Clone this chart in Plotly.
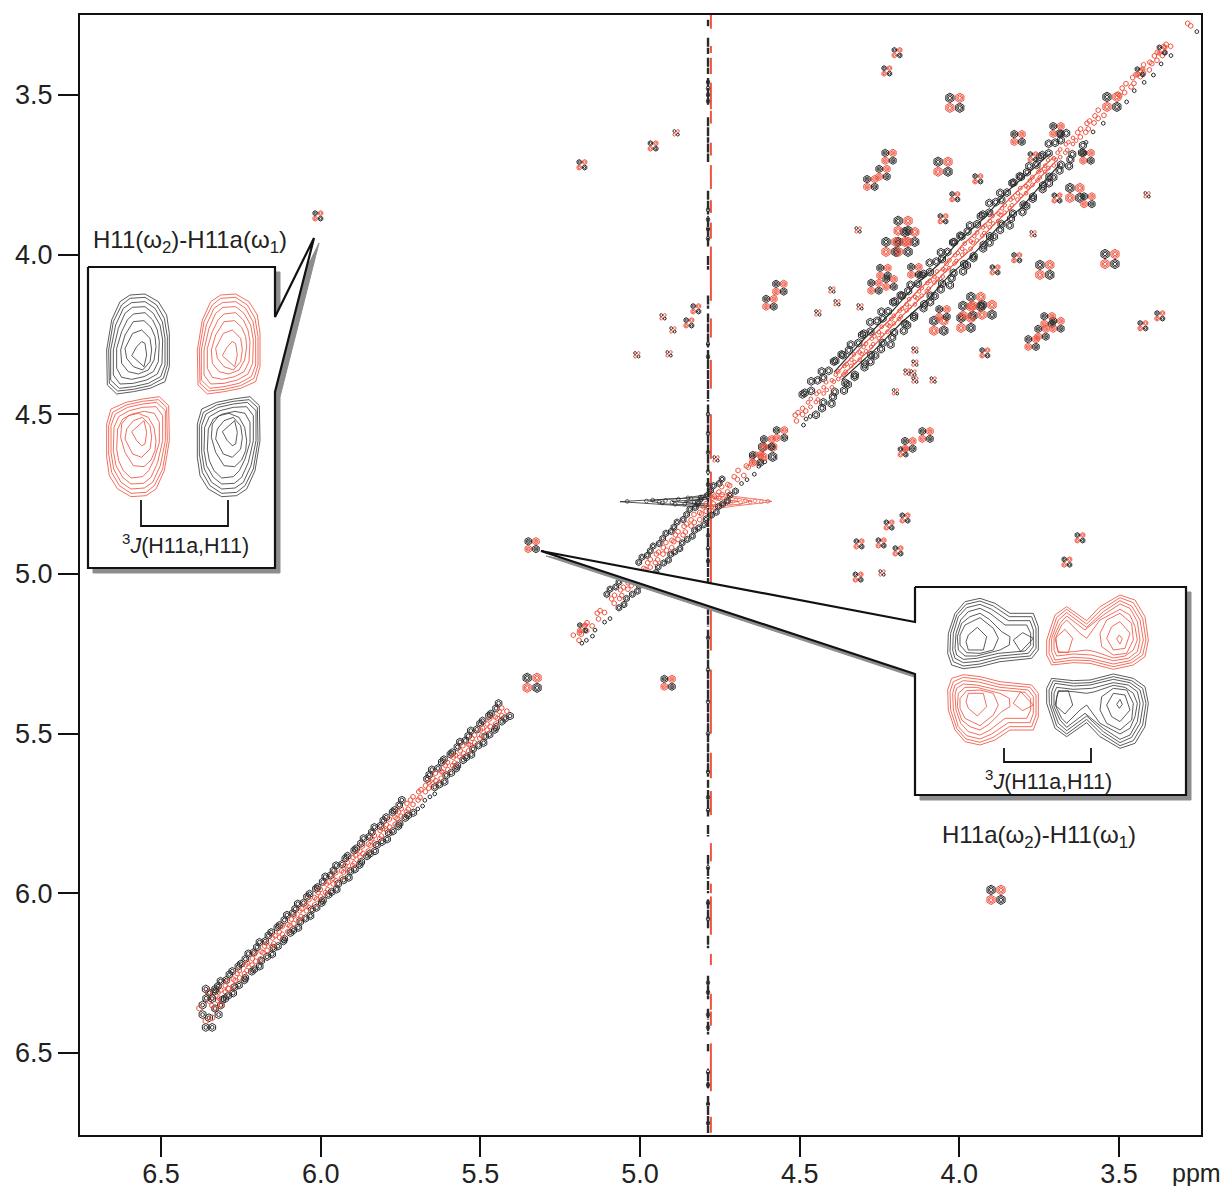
import plotly.graph_objects as go

W, H = 1223, 1186
BLACK = "#2b2b2b"
RED = "#ee5541"
FONT = "Liberation Sans"

# ---- axis data ----
TICK_VALUES = [3.5, 4.0, 4.5, 5.0, 5.5, 6.0, 6.5]
TICK_LABELS = ["3.5", "4.0", "4.5", "5.0", "5.5", "6.0", "6.5"]

# ---- cross-peak quartets (centre in ppm: omega2, omega1) ----
LARGE_X = [4.014, 4.051, 3.732, 3.528, 5.338, 3.885, 3.522, 3.638, 4.176, 4.155, 4.214, 4.176, 3.948, 3.973, 3.913, 4.064, 3.979, 4.600]
LARGE_Y = [3.525, 3.725, 4.048, 4.014, 5.341, 6.005, 3.522, 3.807, 3.910, 3.945, 3.976, 3.976, 4.148, 4.176, 4.173, 4.223, 4.214, 4.618]
MEDIUM_X = [5.338, 4.912, 4.236, 4.139, 4.264, 4.217, 4.051, 3.722, 3.741, 3.694, 3.772, 4.220, 4.239, 4.277, 3.816, 3.694, 3.600, 3.597, 4.562, 4.593, 4.104, 4.158, 4.600, 4.560, 4.635]
MEDIUM_Y = [4.910, 5.341, 4.054, 4.051, 4.101, 4.089, 4.183, 4.205, 4.245, 4.220, 4.277, 3.694, 3.744, 3.776, 3.635, 3.610, 3.694, 3.830, 4.104, 4.151, 4.565, 4.596, 4.590, 4.562, 4.640]
SMALL_X = [4.195, 4.227, 3.942, 4.014, 4.051, 3.820, 3.888, 3.365, 3.425, 3.372, 3.920, 3.434, 5.182, 3.694, 3.769, 4.959, 4.825, 4.847, 4.176, 4.170, 4.220, 4.314, 4.245, 4.192, 4.317, 3.622, 3.663, 6.009, 5.180]
SMALL_Y = [3.368, 3.425, 3.763, 3.819, 3.888, 4.010, 4.048, 3.360, 4.223, 4.192, 4.308, 3.428, 3.719, 3.823, 3.694, 3.660, 4.170, 4.214, 4.618, 4.825, 4.847, 4.906, 4.903, 4.928, 5.010, 4.887, 4.963, 3.879, 5.169]
TINY_X = [4.317, 3.769, 4.145, 4.164, 4.139, 4.139, 4.139, 4.200, 4.399, 4.443, 4.311, 4.082, 4.383, 4.887, 4.928, 4.897, 5.010, 4.909, 4.242, 4.762, 3.412]
TINY_Y = [3.923, 3.935, 4.371, 4.368, 4.393, 4.299, 4.340, 4.430, 4.111, 4.183, 4.164, 4.393, 4.151, 3.619, 4.195, 4.236, 4.314, 4.311, 4.997, 4.640, 3.813]

# ---- diagonal positions (ppm) ----
DIAG_LOW = [6.345, 6.331, 6.320, 6.306, 6.294, 6.283, 6.271, 6.258, 6.247, 6.233, 6.222, 6.209, 6.198, 6.184, 6.172, 6.161, 6.149, 6.136, 6.125, 6.112,
            6.100, 6.088, 6.076, 6.064, 6.052, 6.041, 6.028, 6.016, 6.004, 5.993, 5.980, 5.968, 5.957, 5.944, 5.932, 5.920, 5.908, 5.897, 5.884, 5.872,
            5.860, 5.848, 5.836, 5.824, 5.812, 5.800, 5.789, 5.776, 5.764, 5.752, 5.740, 5.728, 5.655, 5.644, 5.632, 5.620, 5.606, 5.595, 5.583, 5.571,
            5.558, 5.546, 5.535, 5.522, 5.510, 5.498, 5.486, 5.474, 5.462, 5.450, 5.437, 5.425]
DIAG_BRIDGE = [5.715, 5.703, 5.691, 5.679, 5.667, 5.200, 5.187, 5.171, 5.158, 5.132, 5.118, 4.700, 4.684, 4.664, 4.645, 4.630, 4.512, 4.498, 4.486]
DIAG_MID = [5.085, 5.072, 5.059, 5.045, 5.032, 5.020, 4.985, 4.972, 4.960, 4.947, 4.935, 4.922, 4.910, 4.897, 4.885, 4.873, 4.860, 4.847, 4.835, 4.822, 4.810, 4.797, 4.785, 4.772, 4.760, 4.748, 4.735, 4.722]
DIAG_UP = [4.470, 4.457, 4.445, 4.432, 4.420, 4.408, 4.396, 4.383, 4.371, 4.358, 4.346, 4.333, 4.321, 4.309, 4.296, 4.284, 4.272, 4.259, 4.247, 4.234,
           4.222, 4.209, 4.197, 4.185, 4.172, 4.160, 4.148, 4.135, 4.122, 4.110, 4.098, 4.085, 4.073, 4.061, 4.048, 4.036, 4.023, 4.011, 3.998, 3.986,
           3.974, 3.961, 3.949, 3.936, 3.924, 3.912, 3.899, 3.887, 3.874, 3.862, 3.850, 3.837, 3.825, 3.812, 3.800, 3.788, 3.775, 3.763, 3.750, 3.738,
           3.726, 3.713, 3.701, 3.688, 3.676, 3.664, 3.651, 3.639]
DIAG_TOP = [3.625, 3.612, 3.598, 3.585, 3.570, 3.556, 3.500, 3.486, 3.470, 3.455, 3.440, 3.428, 3.414, 3.400, 3.385, 3.372, 3.358, 3.345, 3.280]
OFFSET_LOW = [0.014, 0.018, 0.012, 0.016, 0.020, 0.013, 0.015, 0.019, 0.011, 0.017]
OFFSET_MID = [0.019, 0.022, 0.017, 0.021, 0.024, 0.018]
OFFSET_UP = [0.021, 0.027, 0.019, 0.032, 0.024, 0.018, 0.035, 0.026, 0.022, 0.030, 0.019, 0.036, 0.025, 0.031, 0.020]
OFFSET_RED = [0.004, 0.008, 0.002, 0.007, 0.005, 0.009, 0.003]

# near-diagonal ridge lines in the crowded part (ppm)
RIDGE_POS = [4.38, 4.28, 4.20, 4.12, 4.05, 3.98, 3.90, 3.83, 3.76, 3.70]
RIDGE_OFF_A = [0.012, 0.017, 0.016, 0.021, 0.017, 0.022, 0.018, 0.024, 0.019, 0.016]
RIDGE_OFF_B = [0.006, 0.009, 0.006, 0.008, 0.005, 0.010, 0.007, 0.009, 0.006, 0.005]

# blob at the low-field end of the diagonal
END_BLACK_X = [6.36, 6.33, 6.37, 6.34, 6.35, 6.32, 6.36, 6.34, 6.30, 6.37]
END_BLACK_Y = [6.30, 6.30, 6.35, 6.33, 6.39, 6.38, 6.42, 6.42, 6.33, 6.38]
END_RED_X = [6.35, 6.38, 6.33, 6.36, 6.31, 6.34, 6.29]
END_RED_Y = [6.31, 6.36, 6.36, 6.40, 6.35, 6.39, 6.30]

# ---- water line: ridge fragments along omega1 (start, end, ppm) ----
WATER_BLACK_X = 4.787
WATER_RED_X = 4.778
WATER_BLACK = [(3.265, 3.285), (3.321, 3.372), (3.384, 3.435), (3.447, 3.530), (3.570, 3.650), (3.652, 3.710), (3.800, 3.875), (3.885, 3.975),
               (4.005, 4.048), (4.128, 4.170), (4.185, 4.290), (4.299, 4.460), (4.470, 4.680), (4.700, 5.040), (5.100, 5.165), (5.175, 5.400), (5.405, 5.635),
               (5.645, 5.670), (5.677, 5.760), (5.786, 5.822), (5.880, 5.908), (5.918, 5.955), (5.962, 6.000), (6.020, 6.110), (6.133, 6.172),
               (6.258, 6.332), (6.362, 6.395), (6.402, 6.442), (6.472, 6.495), (6.560, 6.610), (6.635, 6.751)]
WATER_RED = [(3.250, 3.293), (3.347, 3.369), (3.384, 3.435), (3.462, 3.545), (3.550, 3.590), (3.650, 3.690), (3.720, 3.795), (3.830, 3.870), (3.900, 3.950),
             (3.975, 4.145), (4.200, 4.260), (4.330, 4.420), (4.500, 4.640), (4.680, 5.040), (5.110, 5.240), (5.300, 5.500), (5.560, 5.640),
             (5.680, 5.755), (5.843, 5.900), (5.970, 6.000), (6.010, 6.130), (6.190, 6.225), (6.315, 6.365), (6.370, 6.415), (6.470, 6.620), (6.700, 6.750)]
WATER_BLOBS = [3.46, 3.48, 3.50, 3.52, 3.86, 3.89, 3.92, 3.95, 4.28, 4.32, 4.50, 4.56, 4.62, 4.68, 4.72, 4.88, 4.92, 4.96, 5.20, 5.30, 5.40, 5.50,
               5.62, 5.70, 5.74, 5.92, 6.03, 6.08, 6.28, 6.31, 6.38, 6.42, 6.56, 6.60, 6.66, 6.72]

# ---- t1 ridge at the water frequency (ppm) ----
T1_BLACK_X = [[4.79, 4.87, 5.00, 5.063, 5.00, 4.87, 4.79], [4.79, 4.92, 4.97, 4.92, 4.79], [4.79, 4.85, 4.90, 4.85, 4.79], [4.79, 4.82, 4.86, 4.82, 4.79]]
T1_BLACK_Y = [[4.752, 4.764, 4.770, 4.774, 4.778, 4.786, 4.792], [4.760, 4.766, 4.772, 4.781, 4.786], [4.766, 4.769, 4.773, 4.778, 4.781], [4.758, 4.768, 4.775, 4.782, 4.789]]
T1_RED_X = [[4.775, 4.70, 4.62, 4.587, 4.62, 4.70, 4.775], [4.775, 4.69, 4.65, 4.69, 4.775], [4.775, 4.72, 4.69, 4.72, 4.775]]
T1_RED_Y = [[4.745, 4.758, 4.768, 4.773, 4.778, 4.787, 4.798], [4.755, 4.764, 4.772, 4.782, 4.790], [4.762, 4.768, 4.773, 4.778, 4.784]]
T1_BLACK_DOTS_X = [5.04, 4.98, 4.96, 4.94, 4.92, 4.90, 4.88, 4.86, 4.84, 4.82, 4.81, 4.93, 4.89, 4.85, 4.83]
T1_BLACK_DOTS_Y = [4.773, 4.772, 4.769, 4.775, 4.770, 4.776, 4.766, 4.781, 4.764, 4.783, 4.770, 4.778, 4.782, 4.762, 4.776]
T1_RED_DOTS_X = [4.76, 4.745, 4.73, 4.715, 4.70, 4.685, 4.67, 4.655, 4.64, 4.62, 4.60]
T1_RED_DOTS_Y = [4.763, 4.780, 4.766, 4.777, 4.768, 4.776, 4.770, 4.775, 4.771, 4.774, 4.773]

# ---- left inset contours (inset units) ----
L_RINGS = [
    [(180,315),(225,312),(265,335),(290,375),(298,430),(298,530),(285,575),(240,595),(190,605),(140,612),(112,585),(110,480),(125,390),(150,335)],
    [(180,325),(225,322),(260,345),(283,385),(292,440),(292,525),(280,565),(240,587),(190,598),(143,603),(118,580),(116,480),(130,395),(155,345)],
    [(185,338),(225,335),(255,355),(277,395),(285,445),(285,525),(272,560),(235,580),(190,590),(148,595),(122,570),(122,480),(137,405),(160,355)],
    [(187,352),(225,350),(250,370),(270,405),(278,450),(276,520),(262,552),(230,570),(190,580),(150,582),(130,555),(130,480),(145,415),(165,370)],
    [(190,372),(225,368),(248,390),(262,420),(268,455),(265,515),(250,545),(222,560),(185,568),(155,562),(140,535),(140,475),(155,425),(172,390)],
]
L_INNER = [
    [(190,395),(222,392),(243,412),(255,440),(258,470),(252,510),(235,540),(205,552),(175,545),(155,520),(152,480),(165,435)],
    [(188,430),(215,420),(240,445),(245,480),(240,515),(218,540),(190,530),(170,505),(165,475)],
    [(215,455),(225,460),(230,495),(222,530),(185,497),(200,470)],
]
# ---- right inset contours (inset units) ----
R_LEFT = [
    [(195,95),(240,85),(285,100),(330,130),(400,130),(415,170),(415,240),(395,265),(300,275),(240,290),(190,296),(155,285),(143,250),(145,190),(165,130)],
    [(198,103),(240,93),(280,108),(328,140),(395,140),(408,175),(408,235),(390,258),(300,266),(240,282),(190,288),(160,275),(150,245),(152,190),(170,135)],
    [(200,113),(240,103),(275,118),(325,152),(390,152),(400,180),(400,230),(385,250),(300,258),(235,274),(190,278),(165,265),(158,240),(160,190),(175,140)],
    [(205,125),(240,115),(270,130),(315,165),(380,165),(392,190),(392,225),(375,243),(295,250),(230,265),(190,268),(170,255),(165,235),(168,190),(182,150)],
    [(210,140),(240,130),(268,148),(305,185),(330,200),(328,225),(300,240),(230,258),(195,258),(175,240),(172,200),(185,160)],
    [(215,155),(240,143),(280,175),(295,205),(280,240),(240,250),(200,248),(180,225),(180,195),(195,165)],
    [(205,195),(232,172),(260,200),(250,240),(205,240),(198,215)],
    [(340,210),(368,188),(400,205),(362,245)],
]
R_RIGHT = [
    [(500,110),(560,152),(600,110),(660,75),(705,90),(735,140),(745,210),(735,260),(700,285),(640,298),(570,280),(520,278),(455,285),(440,255),(440,210),(465,135)],
    [(500,118),(560,162),(605,118),(660,83),(700,98),(728,145),(738,210),(728,255),(695,278),(640,290),(570,272),(520,270),(460,278),(447,250),(448,210),(470,142)],
    [(500,128),(560,172),(610,125),(660,92),(695,108),(720,150),(730,210),(720,250),(690,272),(640,282),(570,265),(520,262),(465,270),(455,245),(455,205),(475,150)],
    [(500,138),(555,180),(610,135),(660,102),(690,115),(712,155),(720,210),(712,245),(685,265),(640,272),(575,255),(520,252),(470,258),(462,240),(462,200),(480,160)],
    [(500,150),(540,190),(560,205),(600,150),(660,118),(690,135),(705,170),(712,210),(700,240),(675,258),(640,264),(585,245),(560,240),(520,245),(475,248),(470,230),(468,200),(485,165)],
    [(660,130),(695,160),(700,210),(680,250),(640,255),(605,230),(600,190),(620,150)],
    [(660,155),(690,190),(675,235),(640,240),(620,205),(635,170)],
    [(495,178),(518,205),(505,248),(475,245),(465,205)],
    [(658,195),(667,207),(660,222),(650,207)],
]

# ---- annotation geometry, in page units of the overlay ----
L_CALLOUT_X = [88, 275, 275, 314, 275, 275, 88, 88]
L_CALLOUT_Y = [267, 267, 317, 238, 392, 568, 568, 267]
R_CALLOUT_X = [915, 1186, 1186, 915, 915, 541, 915, 915]
R_CALLOUT_Y = [587, 587, 795, 795, 674, 551, 622, 587]
L_BRACKET_X = [141, 141, 228, 228]
L_BRACKET_Y = [500, 526, 526, 500]
R_BRACKET_X = [1004, 1004, 1091, 1091]
R_BRACKET_Y = [748, 762, 762, 748]

fig = go.Figure()


def markers(x, y, color, size, width=1.0, symbol="hexagon-open"):
    fig.add_trace(go.Scatter(x=x, y=y, mode="markers", hoverinfo="skip",
                             marker=dict(symbol=symbol, size=size, color=color, line=dict(color=color, width=width))))


def line(x, y, color, width, axis=("x", "y"), dash=None, fill=None, fillcolor=None):
    fig.add_trace(go.Scatter(x=x, y=y, mode="lines", hoverinfo="skip", xaxis=axis[0], yaxis=axis[1], fill=fill, fillcolor=fillcolor,
                             line=dict(color=color, width=width, dash=dash)))


def quartet(xs, ys, span, sizes):
    black_x = [x + span for x in xs] + [x - span for x in xs]
    black_y = [y - span for y in ys] + [y + span for y in ys]
    red_x = [x - span for x in xs] + [x + span for x in xs]
    red_y = [y - span for y in ys] + [y + span for y in ys]
    for s in sizes:
        markers(black_x, black_y, BLACK, s)
        markers(red_x, red_y, RED, s)


def band(pos, offsets, sign):
    n = len(offsets)
    return ([p - sign * offsets[i % n] for i, p in enumerate(pos)],
            [p + sign * offsets[(i + 3) % n] for i, p in enumerate(pos)])


# water line
for segs, wx, col, w, d in ((WATER_RED, WATER_RED_X, RED, 2.0, None), (WATER_BLACK, WATER_BLACK_X, BLACK, 2.4, "9px,1px")):
    xs, ys = [], []
    for a, b in segs:
        xs += [wx, wx, None]
        ys += [a, b, None]
    line(xs, ys, col, w, dash=d)
markers([WATER_BLACK_X] * len(WATER_BLOBS), WATER_BLOBS, BLACK, 5, symbol="diamond-tall-open")

# t1 ridge
for lx, ly in zip(T1_BLACK_X, T1_BLACK_Y):
    line(lx, ly, BLACK, 0.8)
for lx, ly in zip(T1_RED_X, T1_RED_Y):
    line(lx, ly, RED, 0.8)
markers(T1_BLACK_DOTS_X, T1_BLACK_DOTS_Y, BLACK, 4, width=0.7)
markers(T1_RED_DOTS_X, T1_RED_DOTS_Y, RED, 4, width=0.7)

# diagonal
for pos, off, sizes in ((DIAG_LOW, OFFSET_LOW, (7.5, 4)), (DIAG_MID, OFFSET_MID, (6.5, 3.5)), (DIAG_UP, OFFSET_UP, (8, 4.5))):
    for sign in (1, -1):
        bx, by = band(pos, off, sign)
        for s in sizes:
            markers(bx, by, BLACK, s)
for lo_off in (RIDGE_OFF_A, RIDGE_OFF_B):
    for sign in (1, -1):
        col = BLACK if lo_off is RIDGE_OFF_A else RED
        line([p - sign * d for p, d in zip(RIDGE_POS, lo_off)], [p + sign * d for p, d in zip(RIDGE_POS, lo_off)], col, 1.2)
for pos, size in ((DIAG_LOW, 5), (DIAG_MID, 5), (DIAG_UP, 4), (DIAG_BRIDGE, 5), (DIAG_TOP, 5)):
    for sign in (1, -1):
        rx, ry = band(pos, OFFSET_RED, sign)
        markers(rx, ry, RED, size)
tx, ty = band(DIAG_BRIDGE + DIAG_TOP[::2], OFFSET_MID, 1)
markers(tx, ty, BLACK, 4)
markers(END_BLACK_X, END_BLACK_Y, BLACK, 8)
markers(END_BLACK_X, END_BLACK_Y, BLACK, 4)
markers(END_RED_X, END_RED_Y, RED, 6)

# cross peaks
quartet(LARGE_X, LARGE_Y, 0.0155, (9.5, 6.5, 3.5))
quartet(MEDIUM_X, MEDIUM_Y, 0.012, (7.5, 4.5, 2))
quartet(SMALL_X, SMALL_Y, 0.0085, (5, 2.5))
quartet(TINY_X, TINY_Y, 0.0055, (3,))

# overlay: call-out boxes, their shadows, brackets
SHADOW = "#8b8d8f"
for cx, cy in ((L_CALLOUT_X, L_CALLOUT_Y), (R_CALLOUT_X, R_CALLOUT_Y)):
    line([v + 5 for v in cx], [v + 5 for v in cy], SHADOW, 1, axis=("x2", "y2"), fill="toself", fillcolor=SHADOW)
    line(cx, cy, "#111111", 2.2, axis=("x2", "y2"), fill="toself", fillcolor="white")
line(L_BRACKET_X, L_BRACKET_Y, "#111111", 1.8, axis=("x2", "y2"))
line(R_BRACKET_X, R_BRACKET_Y, "#111111", 1.8, axis=("x2", "y2"))


def ring(points, color, axis, fx=lambda x: x, fy=lambda y: y):
    pts = points + points[:1]
    line([fx(p[0]) for p in pts], [fy(p[1]) for p in pts], color, 0.85, axis=axis)


GREY = "#3d3d3d"
LA = ("x3", "y3")
for r in L_RINGS + L_INNER:
    ring(r, GREY, LA)
    ring(r, RED, LA, fx=lambda x: x + 272)
for r in L_RINGS:
    ring(r, RED, LA, fx=lambda x: 408 - x, fy=lambda y: 1232 - y)
    ring(r, GREY, LA, fx=lambda x: 680 - x, fy=lambda y: 1232 - y)
for r in L_INNER:
    ring(r, RED, LA, fy=lambda y: 1222 - y)
    ring(r, GREY, LA, fx=lambda x: x + 272, fy=lambda y: 1222 - y)

RA = ("x4", "y4")
for r in R_LEFT:
    ring(r, GREY, RA)
    ring(r, RED, RA, fy=lambda y: 610 - y)
for r in R_RIGHT:
    ring(r, RED, RA)
    ring(r, GREY, RA, fy=lambda y: 610 - y)

axis_style = dict(showline=True, linewidth=2, linecolor="#111111", mirror=True, showgrid=False, zeroline=False,
                  ticks="outside", ticklen=20, tickwidth=2, tickcolor="#111111", tickmode="array",
                  tickvals=TICK_VALUES, ticktext=TICK_LABELS, tickfont=dict(family=FONT, size=27, color="#222222"))
hidden = dict(visible=False, fixedrange=True)

fig.update_layout(
    width=W, height=H, margin=dict(l=0, r=0, t=0, b=0, autoexpand=False), showlegend=False,
    paper_bgcolor="white", plot_bgcolor="rgba(0,0,0,0)", hovermode=False,
    xaxis=dict(domain=[80 / W, 1201 / W], range=[6.754, 3.243], ticklabelstandoff=-6, **axis_style),
    yaxis=dict(domain=[1 - 1135 / H, 1 - 15 / H], range=[6.757, 3.25], **axis_style),
    xaxis2=dict(domain=[0, 1], range=[0, W], anchor="y2", **hidden),
    yaxis2=dict(domain=[0, 1], range=[H, 0], anchor="x2", **hidden),
    xaxis3=dict(domain=[70 / W, 340 / W], range=[0, 810], anchor="y3", **hidden),
    yaxis3=dict(domain=[1 - 590 / H, 1 - 190 / H], range=[1200, 0], anchor="x3", **hidden),
    xaxis4=dict(domain=[900 / W, 1200 / W], range=[0, 900], anchor="y4", **hidden),
    yaxis4=dict(domain=[1 - 860 / H, 1 - 570 / H], range=[870, 0], anchor="x4", **hidden),
)


def text(s, x, y, size):
    fig.add_annotation(text=s, xref="paper", yref="paper", x=x / W, y=1 - y / H, showarrow=False,
                       xanchor="center", yanchor="middle", font=dict(family=FONT, size=size, color="#222222"))


text("H11(ω<sub>2</sub>)-H11a(ω<sub>1</sub>)", 190, 242, 24)
text("H11a(ω<sub>2</sub>)-H11(ω<sub>1</sub>)", 1039, 836, 24)
text("<sup>3</sup><i>J</i>(H11a,H11)", 185, 544, 21.5)
text("<sup>3</sup><i>J</i>(H11a,H11)", 1048, 780, 21.5)
text("ppm", 1196, 1173, 25)

fig.write_html("out.html", config={"displayModeBar": False},
               post_script="document.body.style.margin='0';document.documentElement.style.overflow='hidden';")
